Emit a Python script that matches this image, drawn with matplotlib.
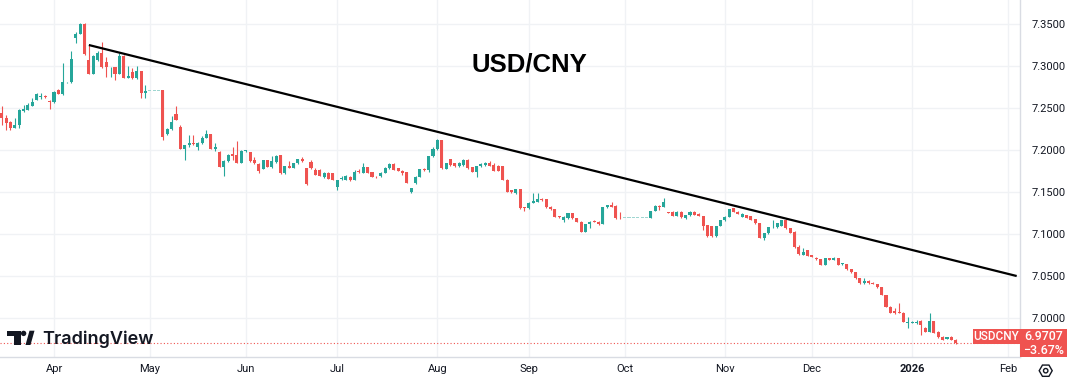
import matplotlib
matplotlib.use('Agg')
import matplotlib.pyplot as plt
import numpy as np
import pandas as pd
from matplotlib.transforms import Affine2D
from matplotlib.patches import Polygon, Circle, RegularPolygon

# ---------------- data (daily USD/CNY candles, business days from 2025-03-14) ----------------
start_date = '2025-03-14'

opens = [
    # Mar
    7.2436, 7.2385, 7.2329, 7.2266, 7.2298, 7.2468, 7.2476, 7.2528, 7.2595, 7.2635, 7.2647, 7.2583,
    # Apr
    7.2567, 7.2714, 7.2667, 7.2805, 7.2805, 7.3329, 7.3381, 7.3496, 7.3071, 7.2905, 7.3071, 7.3151,
    7.3051, 7.2924, 7.2992, 7.2905, 7.3123, 7.2861, 7.2932, 7.2853, 7.2940, 7.2682,
    # May
    7.2706, 7.2706, 7.2706, 7.2714, 7.2187, 7.2247, 7.2429, 7.2278, 7.2012, 7.2056, 7.2087, 7.2040,
    7.2079, 7.2147, 7.2187, 7.2012, 7.1980, 7.1794, 7.1869, 7.1952, 7.1940, 7.1849,
    # Jun
    7.1988, 7.1980, 7.1881, 7.1833, 7.1774, 7.1881, 7.1794, 7.1861, 7.1940, 7.1722, 7.1809, 7.1790,
    7.1841, 7.1889, 7.1782, 7.1861, 7.1762, 7.1762, 7.1683, 7.1730, 7.1730,
    # Jul
    7.1563, 7.1655, 7.1643, 7.1683, 7.1643, 7.1754, 7.1730, 7.1794, 7.1742, 7.1683, 7.1690, 7.1730,
    7.1782, 7.1833, 7.1782, 7.1754, 7.1742, 7.1504, 7.1603, 7.1683, 7.1774, 7.1762, 7.1929,
    # Aug
    7.2008, 7.2119, 7.1774, 7.1889, 7.1841, 7.1810, 7.1821, 7.1881, 7.1794, 7.1742, 7.1810, 7.1821,
    7.1841, 7.1821, 7.1810, 7.1810, 7.1643, 7.1524, 7.1492, 7.1532, 7.1317,
    # Sep
    7.1306, 7.1373, 7.1385, 7.1413, 7.1413, 7.1325, 7.1294, 7.1214, 7.1167, 7.1187, 7.1246, 7.1187,
    7.1147, 7.1028, 7.1119, 7.1159, 7.1147, 7.1119, 7.1317, 7.1345, 7.1333, 7.1190,
    # Oct
    7.1190, 7.1190, 7.1190, 7.1190, 7.1190, 7.1190, 7.1190, 7.1274, 7.1333, 7.1325, 7.1257, 7.1266,
    7.1214, 7.1266, 7.1187, 7.1226, 7.1266, 7.1238, 7.1214, 7.1107, 7.1095, 7.0976, 7.1095,
    # Nov
    7.1167, 7.1206, 7.1306, 7.1266, 7.1206, 7.1226, 7.1214, 7.1175, 7.1127, 7.0948, 7.1008, 7.1079,
    7.1079, 7.1095, 7.1167, 7.1067, 7.1028, 7.0850, 7.0750, 7.0810,
    # Dec
    7.0750, 7.0718, 7.0698, 7.0631, 7.0710, 7.0690, 7.0710, 7.0639, 7.0639, 7.0579, 7.0544, 7.0472,
    7.0413, 7.0444, 7.0421, 7.0405, 7.0365, 7.0274, 7.0135, 7.0083, 7.0075, 7.0063, 6.9937,
    # Jan
    6.9945, 6.9937, 6.9960, 6.9885, 6.9837, 6.9964, 6.9837, 6.9778, 6.9754, 6.9778, 6.9738,
]

highs = [
    7.2520, 7.2417, 7.2345, 7.2377, 7.2488, 7.2536, 7.2555, 7.2615, 7.2674, 7.2674, 7.2655, 7.2595,
    7.2702, 7.2722, 7.3040, 7.2813, 7.3182, 7.3401, 7.3508, 7.3508, 7.3250, 7.3131, 7.3178, 7.3290,
    7.3111, 7.2992, 7.2992, 7.3151, 7.3131, 7.3000, 7.2972, 7.3000, 7.2940, 7.2774,
    7.2706, 7.2706, 7.2706, 7.2714, 7.2258, 7.2405, 7.2524, 7.2298, 7.2060, 7.2179, 7.2179, 7.2099,
    7.2167, 7.2238, 7.2187, 7.2087, 7.1988, 7.1881, 7.1948, 7.2032, 7.2107, 7.2000,
    7.2000, 7.1980, 7.1921, 7.1841, 7.1881, 7.1881, 7.1929, 7.1940, 7.1940, 7.1809, 7.1873, 7.1849,
    7.1889, 7.1921, 7.1782, 7.1881, 7.1782, 7.1770, 7.1742, 7.1742, 7.1730,
    7.1643, 7.1690, 7.1702, 7.1690, 7.1762, 7.1770, 7.1841, 7.1802, 7.1742, 7.1690, 7.1742, 7.1802,
    7.1841, 7.1841, 7.1790, 7.1762, 7.1742, 7.1544, 7.1690, 7.1774, 7.1782, 7.1929, 7.2040,
    7.2127, 7.2119, 7.1849, 7.1897, 7.1849, 7.1861, 7.1889, 7.1889, 7.1802, 7.1813, 7.1841, 7.1861,
    7.1865, 7.1841, 7.1821, 7.1813, 7.1651, 7.1530, 7.1540, 7.1540, 7.1325,
    7.1380, 7.1492, 7.1492, 7.1425, 7.1420, 7.1330, 7.1300, 7.1220, 7.1214, 7.1254, 7.1254, 7.1195,
    7.1155, 7.1125, 7.1155, 7.1165, 7.1155, 7.1325, 7.1350, 7.1385, 7.1340, 7.1266,
    7.1190, 7.1190, 7.1190, 7.1190, 7.1190, 7.1190, 7.1280, 7.1345, 7.1345, 7.1425, 7.1265, 7.1270,
    7.1270, 7.1270, 7.1230, 7.1270, 7.1270, 7.1245, 7.1218, 7.1110, 7.1100, 7.1100, 7.1170,
    7.1210, 7.1300, 7.1310, 7.1270, 7.1245, 7.1230, 7.1220, 7.1180, 7.1130, 7.1010, 7.1085, 7.1167,
    7.1130, 7.1170, 7.1175, 7.1070, 7.1035, 7.0870, 7.0829, 7.0815,
    7.0755, 7.0722, 7.0702, 7.0714, 7.0714, 7.0722, 7.0718, 7.0655, 7.0643, 7.0583, 7.0548, 7.0476,
    7.0472, 7.0448, 7.0425, 7.0409, 7.0369, 7.0278, 7.0139, 7.0115, 7.0175, 7.0070, 7.0016,
    6.9960, 6.9975, 6.9980, 6.9890, 7.0064, 6.9968, 6.9841, 6.9782, 6.9774, 6.9790, 6.9745,
]

lows = [
    7.2300, 7.2238, 7.2238, 7.2258, 7.2258, 7.2456, 7.2476, 7.2528, 7.2595, 7.2607, 7.2615, 7.2484,
    7.2555, 7.2663, 7.2655, 7.2797, 7.2801, 7.3270, 7.3381, 7.3131, 7.2905, 7.2905, 7.3063, 7.2972,
    7.2873, 7.2873, 7.2833, 7.2901, 7.2853, 7.2853, 7.2845, 7.2845, 7.2615, 7.2623,
    7.2706, 7.2706, 7.2706, 7.2120, 7.2179, 7.2238, 7.2357, 7.2008, 7.1880, 7.2032, 7.2060, 7.2000,
    7.2071, 7.2139, 7.2008, 7.1988, 7.1794, 7.1690, 7.1861, 7.1881, 7.1849, 7.1849,
    7.1980, 7.1861, 7.1833, 7.1730, 7.1770, 7.1794, 7.1782, 7.1849, 7.1714, 7.1714, 7.1782, 7.1782,
    7.1833, 7.1861, 7.1583, 7.1774, 7.1702, 7.1694, 7.1663, 7.1655, 7.1643,
    7.1530, 7.1643, 7.1643, 7.1635, 7.1643, 7.1730, 7.1722, 7.1722, 7.1675, 7.1670, 7.1683, 7.1722,
    7.1774, 7.1762, 7.1750, 7.1702, 7.1603, 7.1484, 7.1595, 7.1683, 7.1754, 7.1742, 7.1921,
    7.2000, 7.1774, 7.1770, 7.1813, 7.1802, 7.1802, 7.1813, 7.1774, 7.1742, 7.1683, 7.1802, 7.1813,
    7.1806, 7.1746, 7.1754, 7.1643, 7.1500, 7.1490, 7.1480, 7.1300, 7.1278,
    7.1300, 7.1365, 7.1380, 7.1397, 7.1310, 7.1290, 7.1200, 7.1195, 7.1147, 7.1180, 7.1180, 7.1140,
    7.1020, 7.1020, 7.1067, 7.1140, 7.1110, 7.1115, 7.1310, 7.1320, 7.1180, 7.1180,
    7.1190, 7.1190, 7.1190, 7.1190, 7.1190, 7.1190, 7.1187, 7.1270, 7.1286, 7.1320, 7.1245, 7.1210,
    7.1210, 7.1195, 7.1175, 7.1220, 7.1222, 7.1210, 7.1048, 7.0970, 7.0970, 7.0970, 7.1090,
    7.1160, 7.1200, 7.1260, 7.1235, 7.1200, 7.1185, 7.1165, 7.1125, 7.0948, 7.0929, 7.1005, 7.1075,
    7.1075, 7.1090, 7.1060, 7.1010, 7.0835, 7.0750, 7.0745, 7.0738,
    7.0725, 7.0694, 7.0627, 7.0627, 7.0686, 7.0686, 7.0627, 7.0635, 7.0575, 7.0540, 7.0468, 7.0409,
    7.0409, 7.0409, 7.0401, 7.0361, 7.0270, 7.0131, 7.0059, 7.0051, 7.0055, 6.9952, 6.9877,
    6.9940, 6.9933, 6.9798, 6.9833, 6.9833, 6.9821, 6.9766, 6.9734, 6.9750, 6.9734, 6.9690,
]

closes = [
    7.2377, 7.2325, 7.2266, 7.2298, 7.2476, 7.2488, 7.2536, 7.2567, 7.2667, 7.2643, 7.2627, 7.2575,
    7.2686, 7.2667, 7.2813, 7.2809, 7.3079, 7.3381, 7.3496, 7.3139, 7.2905, 7.3123, 7.3159, 7.2992,
    7.2984, 7.2932, 7.2905, 7.3123, 7.2861, 7.2877, 7.2853, 7.2940, 7.2682, 7.2702,
    7.2706, 7.2706, 7.2706, 7.2159, 7.2247, 7.2333, 7.2357, 7.2012, 7.2060, 7.2087, 7.2067, 7.2087,
    7.2147, 7.2191, 7.2012, 7.2040, 7.1794, 7.1869, 7.1940, 7.1933, 7.1849, 7.1992,
    7.1992, 7.1869, 7.1841, 7.1750, 7.1881, 7.1802, 7.1869, 7.1929, 7.1722, 7.1809, 7.1790, 7.1849,
    7.1889, 7.1869, 7.1591, 7.1782, 7.1702, 7.1694, 7.1730, 7.1655, 7.1643,
    7.1643, 7.1663, 7.1690, 7.1643, 7.1742, 7.1742, 7.1802, 7.1722, 7.1683, 7.1675, 7.1730, 7.1782,
    7.1833, 7.1762, 7.1754, 7.1722, 7.1603, 7.1544, 7.1683, 7.1770, 7.1762, 7.1929, 7.2008,
    7.2119, 7.1782, 7.1841, 7.1821, 7.1813, 7.1841, 7.1881, 7.1782, 7.1742, 7.1810, 7.1833, 7.1849,
    7.1813, 7.1754, 7.1754, 7.1643, 7.1504, 7.1504, 7.1532, 7.1306, 7.1306,
    7.1373, 7.1397, 7.1413, 7.1405, 7.1317, 7.1294, 7.1206, 7.1206, 7.1206, 7.1246, 7.1187, 7.1147,
    7.1028, 7.1119, 7.1147, 7.1147, 7.1119, 7.1317, 7.1345, 7.1325, 7.1187, 7.1187,
    7.1190, 7.1190, 7.1190, 7.1190, 7.1190, 7.1190, 7.1274, 7.1333, 7.1325, 7.1385, 7.1254, 7.1214,
    7.1266, 7.1198, 7.1226, 7.1266, 7.1226, 7.1214, 7.1095, 7.0976, 7.0980, 7.1095, 7.1167,
    7.1206, 7.1294, 7.1266, 7.1238, 7.1238, 7.1187, 7.1167, 7.1127, 7.0948, 7.1008, 7.1079, 7.1087,
    7.1127, 7.1167, 7.1067, 7.1016, 7.0841, 7.0760, 7.0790, 7.0742,
    7.0730, 7.0698, 7.0631, 7.0710, 7.0690, 7.0710, 7.0631, 7.0651, 7.0579, 7.0544, 7.0472, 7.0413,
    7.0444, 7.0413, 7.0405, 7.0365, 7.0274, 7.0135, 7.0063, 7.0055, 7.0063, 6.9956, 6.9956,
    6.9956, 6.9956, 6.9917, 6.9837, 6.9964, 6.9825, 6.9770, 6.9738, 6.9770, 6.9738, 6.9707,
]

price_levels = [7.00, 7.05, 7.10, 7.15, 7.20, 7.25, 7.30, 7.35]
trend_start = ('2025-04-11', 7.325)
trend_end = ('2026-02-04', 7.050)
symbol = 'USDCNY'
change_pct = '−3.67%'
title = 'USD/CNY'

# ---------------- figure ----------------
W, H = 1069, 382
fig = plt.figure(figsize=(W / 100, H / 100), dpi=100)
fig.patch.set_facecolor('white')
PX = Affine2D().scale(1, -1).translate(0, H)   # pixel coords, origin top-left

GREEN = '#26a69a'
RED = '#ef5350'
TXT = '#131722'
GRID = '#f0f2f5'
AXLINE = '#d9dce3'

ax = fig.add_axes([0, (H - 357) / H, 1020 / W, 357 / H])
ax.set_facecolor('white')

days = pd.bdate_range(start_date, '2026-02-27')
n = len(closes)
assert len(opens) == len(highs) == len(lows) == n
x = np.arange(n)
o = np.array(opens); h = np.array(highs); l = np.array(lows); c = np.array(closes)
flat = (h - l) < 1e-6
cols = np.where(c >= o, GREEN, RED)
cols = np.where(flat, '#9fd6d1', cols)

ax.vlines(x[~flat], l[~flat], h[~flat], colors=cols[~flat], lw=0.8, zorder=3)
body_bottom = np.minimum(o, c)
body_h = np.maximum(np.abs(c - o), 0.0009)
ax.bar(x, body_h, bottom=body_bottom, width=0.7, color=cols, linewidth=0, zorder=4)

def pos(d):
    return days.get_loc(pd.Timestamp(d))

ax.plot([pos(trend_start[0]), pos(trend_end[0])], [trend_start[1], trend_end[1]],
        color='black', lw=1.6, solid_capstyle='butt', zorder=5)

ax.axhline(closes[-1], color=RED, lw=0.8, ls=(0, (1, 2)), zorder=2)

ax.set_xlim(-0.4, 233.76)
ax.set_ylim(6.9536, 7.3786)

# month ticks
tick_pos, tick_lab = [], []
for i in range(1, len(days)):
    if days[i].month != days[i - 1].month and i < 233:
        tick_pos.append(i)
        tick_lab.append('2026' if days[i].month == 1 else days[i].strftime('%b'))
ax.set_xticks(tick_pos)
ax.set_xticklabels(tick_lab, fontfamily='Roboto', fontsize=8, color=TXT)
for t in ax.get_xticklabels():
    if t.get_text() == '2026':
        t.set_fontweight('bold')
ax.tick_params(axis='x', length=0, pad=5)

ax.yaxis.tick_right()
ax.set_yticks(price_levels)
ax.set_yticklabels([f'{v:.4f}' for v in price_levels], fontfamily='Roboto', fontsize=8, color=TXT)
ax.tick_params(axis='y', length=0, pad=8.6)

ax.grid(True, color=GRID, lw=1, zorder=0)
ax.set_axisbelow(True)
for s in ['top', 'left']:
    ax.spines[s].set_visible(False)
for s in ['right', 'bottom']:
    ax.spines[s].set_color(AXLINE)
    ax.spines[s].set_linewidth(1)

# title
fig.text(529, 65, title, transform=PX, ha='center', va='center', fontsize=18.5,
         fontweight='bold', fontfamily='Liberation Sans', color='black')

# TradingView logo
logo = '#131722'
fig.add_artist(Polygon([(6.7, 330.7), (20.7, 330.7), (20.7, 345), (14, 345), (14, 336), (6.7, 336)],
                       closed=True, transform=PX, facecolor=logo, edgecolor='none'))
fig.add_artist(Circle((23.6, 333.4), 2.7, transform=PX, facecolor=logo, edgecolor='none'))
fig.add_artist(Polygon([(25.5, 345), (30.5, 345), (34.5, 330.7), (29.5, 330.7)], closed=True,
                       transform=PX, facecolor=logo, edgecolor='none'))
fig.text(42, 344.5, 'TradingView', transform=PX, ha='left', va='baseline', fontsize=13,
         fontfamily='Inter', fontweight='semibold', color=logo)

# price label boxes
fig.add_artist(Polygon([(973, 329), (1020, 329), (1020, 344), (973, 344)], closed=True,
                       transform=PX, facecolor=RED, edgecolor='none'))
fig.text(996.5, 336.8, symbol, transform=PX, ha='center', va='center', fontsize=8.5,
         fontfamily='Roboto', fontweight='medium', color='white')
fig.add_artist(Polygon([(1020, 329), (1067, 329), (1067, 357), (1020, 357)], closed=True,
                       transform=PX, facecolor=RED, edgecolor='none'))
fig.text(1043.5, 336.5, f'{closes[-1]:.4f}', transform=PX, ha='center', va='center', fontsize=9,
         fontfamily='Roboto', fontweight='medium', color='white')
fig.text(1043.5, 350.3, change_pct, transform=PX, ha='center', va='center', fontsize=9,
         fontfamily='Roboto', fontweight='medium', color='white')

# settings icon
fig.add_artist(RegularPolygon((1045.7, 370.7), 6, radius=6.5, orientation=np.pi / 2, transform=PX,
                              facecolor='none', edgecolor=TXT, lw=1))
fig.add_artist(Circle((1045.7, 370.7), 2.2, transform=PX, facecolor='none', edgecolor=TXT, lw=1))

fig.savefig('out.png', dpi=100)
